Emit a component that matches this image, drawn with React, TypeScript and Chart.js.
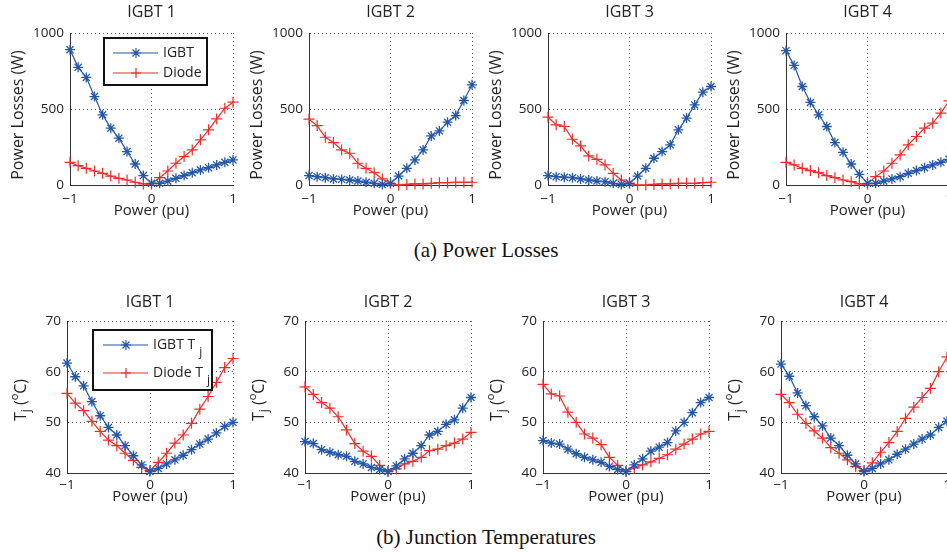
import React, { useEffect, useRef } from 'react';
import { Chart, registerables } from 'chart.js';

Chart.register(...registerables);

// ---------- data ----------
const powerPu = [-1, -0.9, -0.8, -0.7, -0.6, -0.5, -0.4, -0.3, -0.2, -0.1, 0, 0.1, 0.2, 0.3, 0.4, 0.5, 0.6, 0.7, 0.8, 0.9, 1];

const lossIgbt1 = [890, 774, 708, 582, 462, 374, 308, 220, 138, 62, 11, 11, 26, 44, 62, 81, 99, 114, 132, 149, 165];
const lossDiode1 = [149, 127, 110, 92, 77, 59, 44, 33, 18, 7, 7, 48, 92, 143, 187, 231, 297, 363, 435, 505, 545];
const lossIgbt2 = [62, 55, 48, 40, 37, 33, 26, 18, 11, 4, 11, 59, 110, 165, 231, 323, 356, 413, 457, 556, 659];
const lossDiode2 = [433, 391, 314, 279, 231, 209, 143, 110, 81, 40, 11, 0, 4, 7, 7, 11, 15, 15, 18, 18, 18];
const lossIgbt3 = [62, 55, 51, 48, 40, 33, 26, 22, 11, 4, 11, 59, 110, 176, 220, 264, 363, 440, 527, 611, 648];
const lossDiode3 = [446, 396, 385, 301, 257, 191, 169, 132, 77, 33, 11, 0, 0, 4, 7, 7, 11, 11, 11, 15, 18];
const lossIgbt4 = [884, 787, 648, 543, 462, 385, 279, 215, 138, 70, 11, 11, 26, 40, 55, 77, 95, 114, 132, 149, 169];
const lossDiode4 = [149, 132, 110, 95, 81, 62, 48, 33, 22, 7, 7, 55, 92, 143, 198, 264, 319, 374, 407, 473, 554];

const tempIgbt1 = [61.7, 59.0, 57.2, 54.1, 51.3, 49.0, 47.5, 45.4, 43.4, 41.6, 40.3, 40.9, 41.8, 42.6, 43.5, 44.6, 45.7, 46.7, 47.9, 49.2, 50.0];
const tempDiode1 = [55.7, 53.8, 52.3, 50.2, 48.2, 46.5, 45.4, 43.9, 42.5, 41.1, 40.5, 42.1, 43.9, 45.9, 47.5, 49.8, 52.6, 55.1, 57.9, 60.8, 62.6];
const tempIgbt2 = [46.2, 45.8, 44.6, 44.1, 43.6, 43.3, 42.3, 41.8, 41.1, 40.7, 40.3, 41.4, 42.8, 43.9, 45.4, 47.5, 48.2, 49.6, 50.5, 52.8, 54.9];
const tempDiode2 = [57.0, 55.5, 53.9, 52.8, 51.1, 48.5, 45.8, 44.3, 43.3, 41.5, 40.3, 40.8, 41.8, 42.3, 43.1, 44.4, 44.7, 45.4, 45.9, 46.7, 48.0];
const tempIgbt3 = [46.4, 45.9, 45.7, 44.7, 43.8, 43.1, 42.6, 42.1, 41.3, 40.7, 40.3, 41.6, 42.8, 44.3, 45.1, 46.0, 48.3, 50.0, 51.9, 53.9, 54.9];
const tempDiode3 = [57.5, 55.6, 55.2, 52.0, 50.0, 47.7, 46.9, 45.6, 43.1, 41.5, 40.3, 41.0, 41.6, 42.2, 42.9, 43.6, 44.7, 45.7, 46.7, 47.7, 48.2];
const tempIgbt4 = [61.5, 59.1, 55.8, 53.3, 51.1, 49.3, 46.9, 45.4, 43.5, 41.8, 40.3, 40.9, 41.8, 42.6, 43.7, 44.7, 45.7, 46.7, 47.5, 49.0, 50.2];
const tempDiode4 = [55.5, 53.9, 51.6, 49.8, 48.3, 46.9, 45.0, 43.9, 42.6, 41.3, 40.5, 42.0, 44.1, 46.0, 48.2, 50.8, 53.0, 54.9, 56.7, 60.0, 62.9];

const subplotTitles = ['IGBT 1', 'IGBT 2', 'IGBT 3', 'IGBT 4'];
const xTicks = [-1, 0, 1];
const lossTicks = [0, 500, 1000];
const tempTicks = [40, 50, 60, 70];
const xAxisTitle = 'Power (pu)';
const lossAxisTitle = 'Power Losses (W)';
const captionA = '(a) Power Losses';
const captionB = '(b) Junction Temperatures';

// ---------- styles ----------
const FONT = "'Open Sans', 'DejaVu Sans', sans-serif";
const BLUE = '#2457a8';
const RED = '#ee2c2c';
const TXT = '#222';

type Seg = { t: string; shift?: number; size?: number };
type LegendRow = { label: string; sub?: string; color: string; style: 'star' | 'cross'; y: number };
type LegendCfg = { x: number; y: number; w: number; h: number; lineX0: number; lineX1: number; markerX: number; textX: number; rows: LegendRow[] };

type RowCfg = {
  canvasTop: number; canvasH: number; plotTop: number; plotBottom: number; plotW: number; titleCenter: number; tickPad: number;
  xTitleBottomPad: number; yMin: number; yMax: number; yTicks: number[]; yTitle: Seg[]; yTitleOffset: number; yTitleDy: number;
};

function drawMarker(ctx: CanvasRenderingContext2D, style: string, x: number, y: number, r: number) {
  ctx.beginPath();
  ctx.moveTo(x - r, y); ctx.lineTo(x + r, y);
  ctx.moveTo(x, y - r); ctx.lineTo(x, y + r);
  if (style === 'star') {
    const d = r * Math.SQRT1_2;
    ctx.moveTo(x - d, y - d); ctx.lineTo(x + d, y + d);
    ctx.moveTo(x - d, y + d); ctx.lineTo(x + d, y - d);
  }
  ctx.stroke();
}

function makeTextPlugin(title: string, titleCenter: number, segs: Seg[], offset: number, dy: number) {
  return {
    id: 'textCustom',
    afterDraw(chart: any) {
      const { ctx, chartArea: ca } = chart;
      // subplot title centred over the plot area
      ctx.save();
      ctx.fillStyle = TXT;
      ctx.textAlign = 'center';
      ctx.textBaseline = 'middle';
      ctx.font = `16px ${FONT}`;
      ctx.fillText(title, (ca.left + ca.right) / 2, titleCenter);
      ctx.restore();
      // y-axis title with sub/superscripts
      ctx.save();
      ctx.translate(ca.left - offset, (ca.top + ca.bottom) / 2 + dy);
      ctx.rotate(-Math.PI / 2);
      ctx.fillStyle = TXT;
      ctx.textBaseline = 'middle';
      ctx.textAlign = 'left';
      let total = 0;
      segs.forEach((s) => { ctx.font = `${s.size ?? 16}px ${FONT}`; total += ctx.measureText(s.t).width; });
      let x = -total / 2;
      segs.forEach((s) => {
        ctx.font = `${s.size ?? 16}px ${FONT}`;
        ctx.fillText(s.t, x, s.shift ?? 0);
        x += ctx.measureText(s.t).width;
      });
      ctx.restore();
    },
  };
}

function makeLegendPlugin(lg: LegendCfg | null) {
  return {
    id: 'boxLegendCustom',
    afterDraw(chart: any) {
      if (!lg) return;
      const { ctx, chartArea: ca } = chart;
      ctx.save();
      const bx = ca.left + lg.x, by = ca.top + lg.y;
      ctx.fillStyle = '#fff';
      ctx.fillRect(bx, by, lg.w, lg.h);
      ctx.lineWidth = 2;
      ctx.strokeStyle = '#111';
      ctx.strokeRect(bx, by, lg.w, lg.h);
      lg.rows.forEach((row) => {
        const y = ca.top + row.y;
        ctx.strokeStyle = row.color;
        ctx.lineWidth = 1.2;
        ctx.beginPath();
        ctx.moveTo(ca.left + lg.lineX0, y);
        ctx.lineTo(ca.left + lg.lineX1, y);
        ctx.stroke();
        drawMarker(ctx, row.style, ca.left + lg.markerX, y, 5);
        ctx.fillStyle = TXT;
        ctx.textBaseline = 'middle';
        ctx.textAlign = 'left';
        ctx.font = `14px ${FONT}`;
        const tx = ca.left + lg.textX;
        ctx.fillText(row.label, tx, y);
        if (row.sub) {
          const w = ctx.measureText(row.label).width;
          ctx.font = `12px ${FONT}`;
          ctx.fillText(row.sub, tx + w + 4, y + 8);
        }
      });
      ctx.restore();
    },
  };
}

const rows: RowCfg[] = [
  {
    canvasTop: 0, canvasH: 224, plotTop: 33, plotBottom: 185, plotW: 163, titleCenter: 12, tickPad: 6, xTitleBottomPad: 4,
    yMin: 0, yMax: 1000, yTicks: lossTicks,
    yTitle: [{ t: lossAxisTitle }], yTitleOffset: 52, yTitleDy: 6,
  },
  {
    canvasTop: 290, canvasH: 222, plotTop: 321, plotBottom: 473, plotW: 166, titleCenter: 12, tickPad: 4, xTitleBottomPad: 6,
    yMin: 40, yMax: 70, yTicks: tempTicks,
    yTitle: [{ t: 'T' }, { t: 'j', shift: 6, size: 12 }, { t: ' (' }, { t: 'o', shift: -6, size: 11 }, { t: 'C)' }],
    yTitleOffset: 46, yTitleDy: 3,
  },
];

type Sub = { row: number; col: number; plotLeft: number; igbt: number[]; diode: number[]; igbtLabel: string; diodeLabel: string; legend: LegendCfg | null };

const Y_AREA = 66;
const RIGHT_PAD = 10;

function SubPlot({ s }: { s: Sub }) {
  const ref = useRef<HTMLCanvasElement>(null);
  const r = rows[s.row];
  const w = Y_AREA + r.plotW + RIGHT_PAD;
  const h = r.canvasH;
  useEffect(() => {
    const gridCommon = { display: true, color: '#555', lineWidth: 1, drawTicks: false };
    const borderCommon = { display: true, color: '#333', width: 1, dash: [1, 3] };
    const chart = new Chart(ref.current as HTMLCanvasElement, {
      type: 'line',
      data: {
        datasets: [
          {
            label: s.igbtLabel,
            data: powerPu.map((x, i) => ({ x, y: s.igbt[i] })),
            borderColor: BLUE, backgroundColor: BLUE, borderWidth: 1.2,
            pointStyle: 'star', pointRadius: 5, pointBorderWidth: 1.3, pointBorderColor: BLUE,
            clip: false as any, tension: 0,
          },
          {
            label: s.diodeLabel,
            data: powerPu.map((x, i) => ({ x, y: s.diode[i] })),
            borderColor: RED, backgroundColor: RED, borderWidth: 1.2,
            pointStyle: 'cross', pointRadius: 5.5, pointBorderWidth: 1.2, pointBorderColor: RED,
            clip: false as any, tension: 0,
          },
        ],
      },
      options: {
        responsive: false,
        animation: false,
        events: [],
        layout: { padding: { left: 0, right: RIGHT_PAD, top: r.plotTop - r.canvasTop, bottom: 0 } },
        plugins: {
          legend: { display: false },
          tooltip: { enabled: false },
          title: { display: false },
        },
        scales: {
          x: {
            type: 'linear', min: -1, max: 1,
            afterBuildTicks: (sc: any) => { sc.ticks = xTicks.map((v) => ({ value: v })); },
            afterFit: (sc: any) => { sc.height = h - (r.plotBottom - r.canvasTop); },
            ticks: {
              color: TXT, padding: r.tickPad, maxRotation: 0, autoSkip: false,
              font: { family: FONT, size: 13.5 },
              callback: (v: any) => (Number(v) < 0 ? '\u2212' + Math.abs(Number(v)) : String(v)),
            },
            grid: gridCommon, border: borderCommon,
            title: {
              display: true, text: xAxisTitle, color: TXT,
              font: { family: FONT, size: 15, lineHeight: 1.2 },
              padding: { top: 0, bottom: r.xTitleBottomPad },
            },
          },
          y: {
            type: 'linear', min: r.yMin, max: r.yMax,
            afterBuildTicks: (sc: any) => { sc.ticks = r.yTicks.map((v) => ({ value: v })); },
            afterFit: (sc: any) => { sc.width = Y_AREA; },
            ticks: {
              color: TXT, padding: 6, autoSkip: false,
              font: { family: FONT, size: 13.5 },
              callback: (v: any) => String(v),
            },
            grid: gridCommon, border: borderCommon,
          },
        },
      },
      plugins: [makeTextPlugin(subplotTitles[s.col], r.titleCenter, r.yTitle, r.yTitleOffset, r.yTitleDy), makeLegendPlugin(s.legend)],
    } as any);
    return () => chart.destroy();
  }, []);
  return (
    <canvas
      ref={ref}
      width={w}
      height={h}
      style={{ position: 'absolute', left: s.plotLeft - Y_AREA, top: r.canvasTop, width: w, height: h }}
    />
  );
}

const lossLegend: LegendCfg = {
  x: 34, y: 5, w: 103, h: 47, lineX0: 43, lineX1: 88, markerX: 66, textX: 93,
  rows: [
    { label: 'IGBT', color: BLUE, style: 'star', y: 20 },
    { label: 'Diode', color: RED, style: 'cross', y: 40 },
  ],
};
const tempLegend: LegendCfg = {
  x: 26, y: 9, w: 119, h: 60, lineX0: 36, lineX1: 81, markerX: 59, textX: 86,
  rows: [
    { label: 'IGBT T', sub: 'j', color: BLUE, style: 'star', y: 24 },
    { label: 'Diode T', sub: 'j', color: RED, style: 'cross', y: 52 },
  ],
};

const subs: Sub[] = [
  { row: 0, col: 0, plotLeft: 70, igbt: lossIgbt1, diode: lossDiode1, igbtLabel: 'IGBT', diodeLabel: 'Diode', legend: lossLegend },
  { row: 0, col: 1, plotLeft: 309, igbt: lossIgbt2, diode: lossDiode2, igbtLabel: 'IGBT', diodeLabel: 'Diode', legend: null },
  { row: 0, col: 2, plotLeft: 548, igbt: lossIgbt3, diode: lossDiode3, igbtLabel: 'IGBT', diodeLabel: 'Diode', legend: null },
  { row: 0, col: 3, plotLeft: 786, igbt: lossIgbt4, diode: lossDiode4, igbtLabel: 'IGBT', diodeLabel: 'Diode', legend: null },
  { row: 1, col: 0, plotLeft: 67, igbt: tempIgbt1, diode: tempDiode1, igbtLabel: 'IGBT Tj', diodeLabel: 'Diode Tj', legend: tempLegend },
  { row: 1, col: 1, plotLeft: 305, igbt: tempIgbt2, diode: tempDiode2, igbtLabel: 'IGBT Tj', diodeLabel: 'Diode Tj', legend: null },
  { row: 1, col: 2, plotLeft: 543, igbt: tempIgbt3, diode: tempDiode3, igbtLabel: 'IGBT Tj', diodeLabel: 'Diode Tj', legend: null },
  { row: 1, col: 3, plotLeft: 781, igbt: tempIgbt4, diode: tempDiode4, igbtLabel: 'IGBT Tj', diodeLabel: 'Diode Tj', legend: null },
];

const captionStyle: React.CSSProperties = {
  position: 'absolute', left: 286, width: 400, textAlign: 'center',
  fontFamily: "'Liberation Serif', 'Times New Roman', serif", fontSize: 21, lineHeight: '24px', color: '#111',
};

export default function App() {
  return (
    <div style={{ position: 'fixed', left: 0, top: 0, width: 947, height: 555, overflow: 'hidden', background: '#fff' }}>
      {subs.map((s) => <SubPlot key={`${s.row}-${s.col}`} s={s} />)}
      <div style={{ ...captionStyle, top: 238 }}>{captionA}</div>
      <div style={{ ...captionStyle, top: 525 }}>{captionB}</div>
    </div>
  );
}
